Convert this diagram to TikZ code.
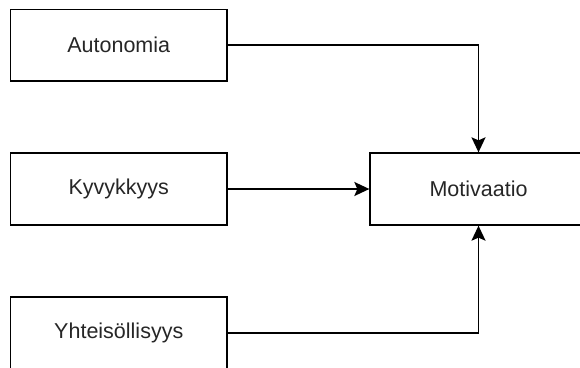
\documentclass[tikz,border=0pt]{standalone}
\usepackage{fontspec}
\setmainfont{Liberation Sans}
\usetikzlibrary{arrows.meta}
\begin{document}
\begin{tikzpicture}[x=1pt,y=-1pt,
  box/.style={draw, line width=1.8pt, rectangle, minimum width=216.5pt, minimum height=71.5pt,
    inner sep=0pt, font=\fontsize{21.5}{26}\selectfont, text=black!85},
  link/.style={draw, line width=1.8pt, -{Stealth[length=15pt,width=14pt,inset=3pt]}}]
  \useasboundingbox (0,0) rectangle (580,367);
  \clip (0,0) rectangle (580,367);
  \node[box] (auto) at (118.75,45.25) {Autonomia};
  \node[box] (kyv) at (118.75,189) {Kyvykkyys};
  \node[box] (yht) at (118.75,333) {Yhteisöllisyys};
  \node[box] (moti) at (478.5,189) {Motivaatio};
  \draw[link] (auto.east) -| (moti.north);
  \draw[link] (kyv.east) -- (moti.west);
  \draw[link] (yht.east) -| (moti.south);
\end{tikzpicture}
\end{document}
